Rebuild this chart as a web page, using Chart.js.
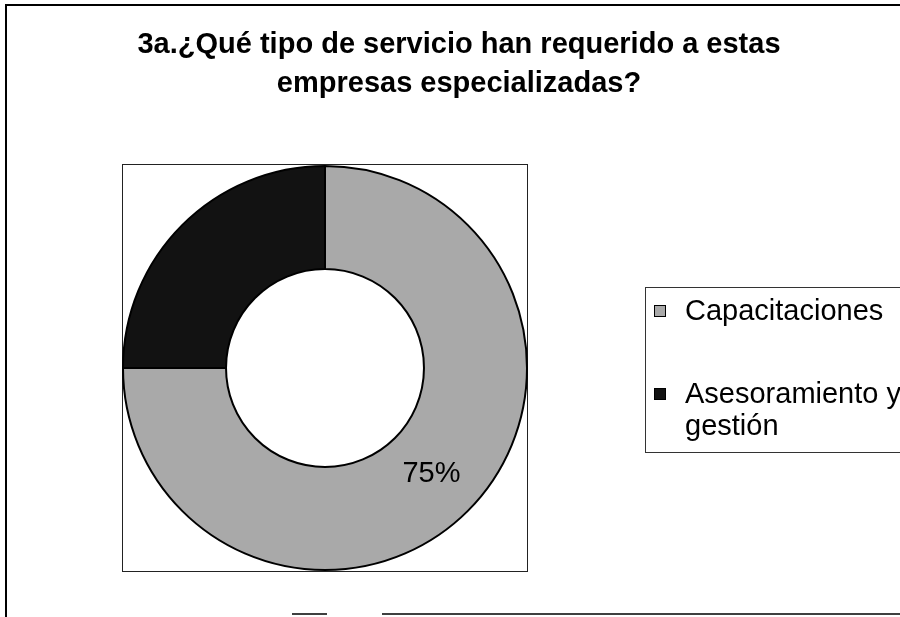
<!DOCTYPE html>
<html>
<head>
<meta charset="utf-8">
<script src="https://cdn.jsdelivr.net/npm/chart.js"></script>
<style>
  html, body { margin: 0; padding: 0; background: #fff; }
  #wrap { width: 900px; height: 617px; position: relative; }
</style>
</head>
<body>
<div id="wrap"><canvas id="chart"></canvas></div>
<script>
const categories = ['Capacitaciones', 'Asesoramiento y gestión'];
const values = [75, 25];
const shownLabels = ['75%', ''];
const titleLines = ['3a.¿Qué tipo de servicio han requerido a estas', 'empresas especializadas?'];
const sliceColors = ['#a9a9a9', '#121212'];

// frame, plot box, title, legend and the percentage label
const decor = {
  id: 'decor',
  beforeDraw(chart) {
    const ctx = chart.ctx;
    ctx.save();
    ctx.strokeStyle = '#000';
    ctx.lineWidth = 2;
    ctx.beginPath();
    ctx.moveTo(6, 617);
    ctx.lineTo(6, 5);
    ctx.lineTo(900, 5);
    ctx.stroke();
    ctx.lineWidth = 1.5;
    ctx.beginPath();
    ctx.moveTo(292, 614);
    ctx.lineTo(327, 614);
    ctx.moveTo(382, 614);
    ctx.lineTo(900, 614);
    ctx.stroke();
    // plot area box
    ctx.lineWidth = 1;
    ctx.strokeStyle = '#222';
    ctx.strokeRect(122.5, 164.5, 405, 407);
    ctx.restore();
  },
  afterDraw(chart) {
    const ctx = chart.ctx;
    ctx.save();
    ctx.fillStyle = '#000';
    ctx.textAlign = 'center';
    ctx.textBaseline = 'alphabetic';
    ctx.font = 'bold 29px "Liberation Sans", Arial, sans-serif';
    ctx.fillText(titleLines[0], 459, 53);
    ctx.fillText(titleLines[1], 459, 92);

    // legend
    ctx.strokeStyle = '#333';
    ctx.lineWidth = 1;
    ctx.strokeRect(645.5, 287.5, 270, 165);
    ctx.font = '29px "Liberation Sans", Arial, sans-serif';
    ctx.textAlign = 'left';
    const ds = chart.data.datasets[0];
    const maxW = 225;
    let y = 320;
    chart.data.labels.forEach((lab, i) => {
      ctx.fillStyle = ds.backgroundColor[i];
      ctx.fillRect(654, y - 15, 11, 11);
      ctx.strokeStyle = '#000';
      ctx.strokeRect(654.5, y - 14.5, 11, 11);
      ctx.fillStyle = '#000';
      const words = lab.split(' ');
      const lines = [];
      let cur = '';
      words.forEach((w) => {
        const t = cur ? cur + ' ' + w : w;
        if (ctx.measureText(t).width > maxW && cur) { lines.push(cur); cur = w; } else { cur = t; }
      });
      lines.push(cur);
      lines.forEach((ln, k) => ctx.fillText(ln, 685, y + k * 32));
      y += 83;
    });

    // percentage label on the slice
    const meta = chart.getDatasetMeta(0);
    ctx.font = '29px "Liberation Sans", Arial, sans-serif';
    ctx.textAlign = 'center';
    ctx.textBaseline = 'middle';
    meta.data.forEach((arc, i) => {
      if (!shownLabels[i]) return;
      const mid = (arc.startAngle + arc.endAngle) / 2;
      const r = arc.innerRadius + (arc.outerRadius - arc.innerRadius) * 0.5;
      ctx.fillStyle = '#000';
      ctx.fillText(shownLabels[i], arc.x + Math.cos(mid) * r, arc.y + Math.sin(mid) * r);
    });
    ctx.restore();
  }
};

new Chart(document.getElementById('chart'), {
  type: 'doughnut',
  data: {
    labels: categories,
    datasets: [{
      data: values,
      backgroundColor: sliceColors,
      borderColor: '#000',
      borderWidth: 2,
    }],
  },
  options: {
    responsive: true,
    maintainAspectRatio: false,
    animation: false,
    cutout: '49%',
    layout: { padding: { left: 122, top: 164, right: 372, bottom: 45 } },
    plugins: {
      legend: { display: false },
      title: { display: false },
      tooltip: { enabled: false },
    },
  },
  plugins: [decor],
});
</script>
</body>
</html>
